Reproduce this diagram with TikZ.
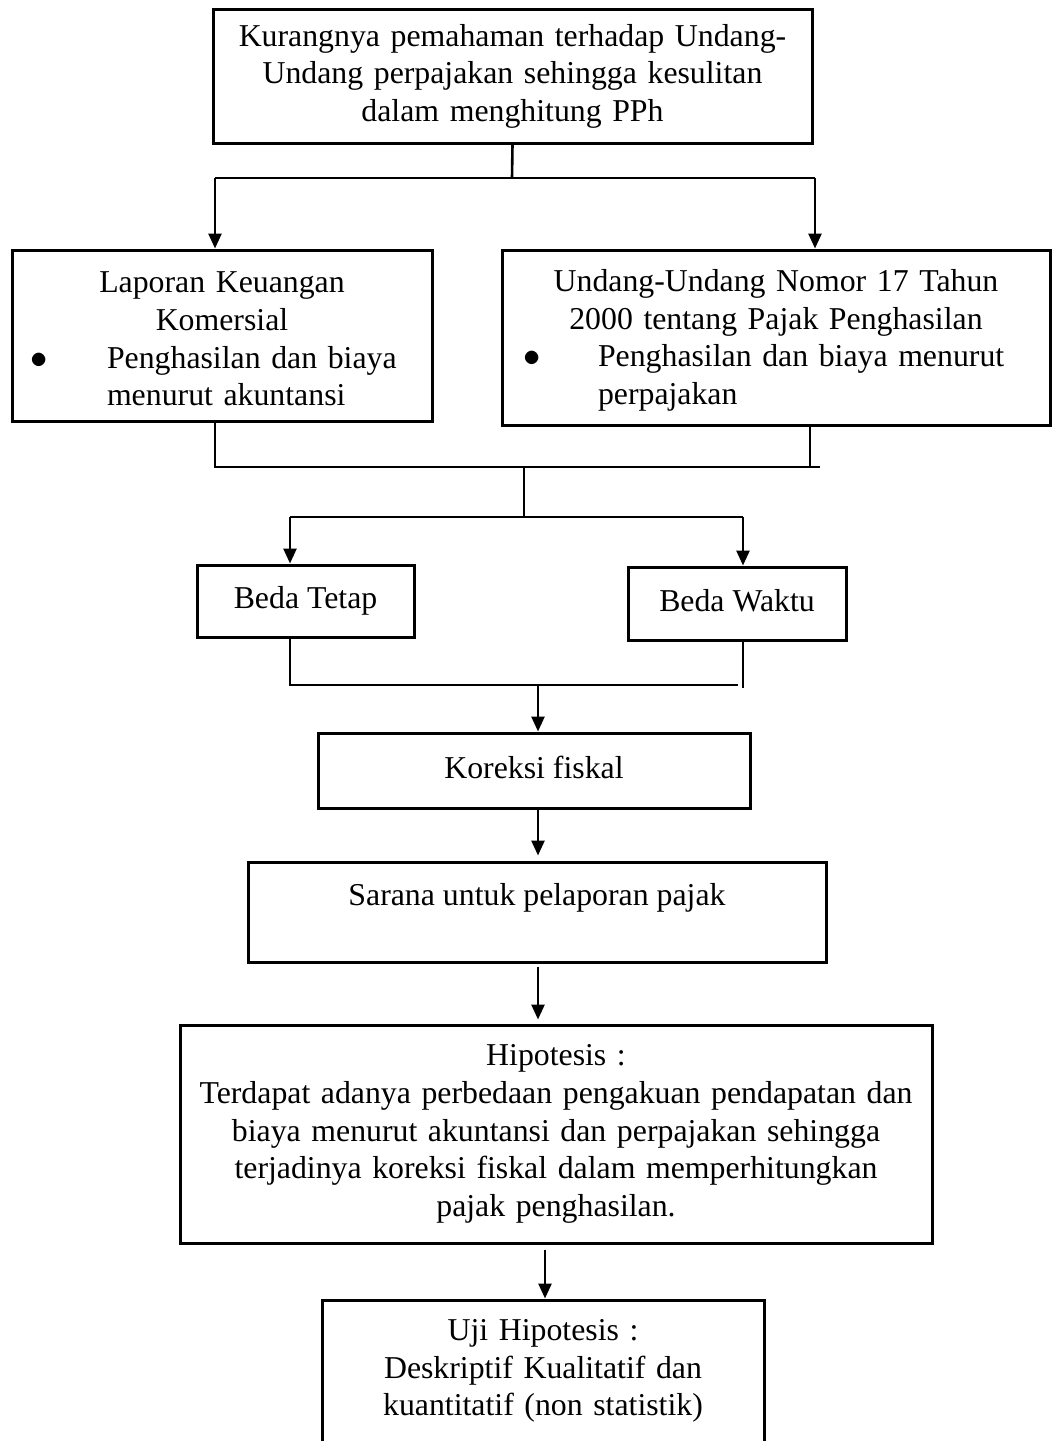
\documentclass[tikz,border=0pt]{standalone}
\usepackage{fontspec}
\setmainfont{Liberation Serif}
\usetikzlibrary{arrows.meta}
\tikzstyle{box}=[draw,line width=1.5pt,inner sep=0pt,align=center,font=\fontsize{15.9}{18.8}\selectfont]
\tikzstyle{line}=[line width=1.3pt]
\tikzstyle{arr}=[line width=1.3pt,-{Triangle[length=7.5pt,width=6.5pt]}]

\begin{document}
\begin{tikzpicture}[x=0.5pt,y=-0.5pt]
\useasboundingbox (0,0) rectangle (1052,1441);
\node[box,minimum width=299.5pt,minimum height=67pt,text width=299.5pt] at (512.5, 76) (top) {Kurangnya pemahaman terhadap Undang-\\Undang perpajakan sehingga kesulitan\\dalam menghitung PPh};
\node[box,minimum width=210pt,minimum height=85.5pt,text width=210pt] at (222, 335.5) (lap) {\rule{0pt}{14pt}Laporan Keuangan\\Komersial\\\makebox[210pt][l]{\hspace*{9pt}\makebox[38.5pt][l]{$\bullet$}\parbox[t]{160pt}{Penghasilan dan biaya\\menurut akuntansi}}};
\node[box,minimum width=274pt,minimum height=87.5pt,text width=274pt] at (776, 337.5) (uu) {\rule{0pt}{14pt}Undang-Undang Nomor 17 Tahun\\2000 tentang Pajak Penghasilan\\\makebox[274pt][l]{\hspace*{10.5pt}\makebox[37.5pt][l]{$\bullet$}\parbox[t]{220pt}{Penghasilan dan biaya menurut\\perpajakan}}};
\node[box,minimum width=108.5pt,minimum height=36pt,text depth=3.5pt] at (305.5, 601) (bt) {Beda Tetap};
\node[box,minimum width=109pt,minimum height=36.5pt,text depth=3.5pt] at (737, 603.5) (bw) {Beda Waktu};
\node[box,minimum width=216pt,minimum height=37.5pt,text depth=3.5pt] at (534, 770.5) (kf) {Koreksi fiskal};
\node[box,minimum width=289pt,minimum height=50pt] at (537, 912) (sp) {Sarana untuk pelaporan pajak\rule[-17.5pt]{0pt}{0pt}};
\node[box,minimum width=376pt,minimum height=109pt,text width=376pt] at (556, 1134) (hy) {Hipotesis :\\Terdapat adanya perbedaan pengakuan pendapatan dan\\biaya menurut akuntansi dan perpajakan sehingga\\terjadinya koreksi fiskal dalam memperhitungkan\\pajak penghasilan.};
\node[box,minimum width=221pt,minimum height=90pt,text width=221pt] at (543, 1390) (uh) {Uji Hipotesis :\\Deskriptif Kualitatif dan\\kuantitatif (non statistik)\rule[-22.5pt]{0pt}{0pt}};
% junctions
\coordinate (j1) at (512, 178);
\coordinate (j1l) at (215, 178);
\coordinate (j1r) at (815, 178);
\coordinate (j2l) at (215, 467);
\coordinate (j2r) at (820, 467);
\coordinate (j2rr) at (810, 467);
\coordinate (j2) at (524, 467);
\coordinate (j3) at (524, 517);
\coordinate (j3l) at (290, 517);
\coordinate (j3r) at (743, 517);
\coordinate (j4l) at (290, 685);
\coordinate (j4r) at (738, 685);
\coordinate (j4rr) at (743, 688);
\coordinate (j4) at (538, 685);
\coordinate (j5) at (545, 1245);
\draw[line] (top.south) -- (j1);
\draw[line] (j1l) -- (j1r);
\draw[arr] (j1l) -- (j1l |- lap.north);
\draw[arr] (j1r) -- (j1r |- uu.north);
\draw[line] (j2l |- lap.south) -- (j2l) -- (j2r);
\draw[line] (j2rr |- uu.south) -- (j2rr);
\draw[line] (j2) -- (j3);
\draw[line] (j3l) -- (j3r);
\draw[arr] (j3l) -- (j3l |- bt.north);
\draw[arr] (j3r) -- (j3r |- bw.north);
\draw[line] (j4l |- bt.south) -- (j4l) -- (j4r);
\draw[line] (j4rr |- bw.south) -- (j4rr);
\draw[arr] (j4) -- (j4 |- kf.north);
\draw[arr, shorten >=2.5pt] (j4 |- kf.south) -- (j4 |- sp.north);
\draw[arr, shorten <=1.5pt, shorten >=2pt] (j4 |- sp.south) -- (j4 |- hy.north);
\draw[arr, shorten <=2.5pt] (j5 |- hy.south) -- (j5 |- uh.north);
\end{tikzpicture}
\end{document}
